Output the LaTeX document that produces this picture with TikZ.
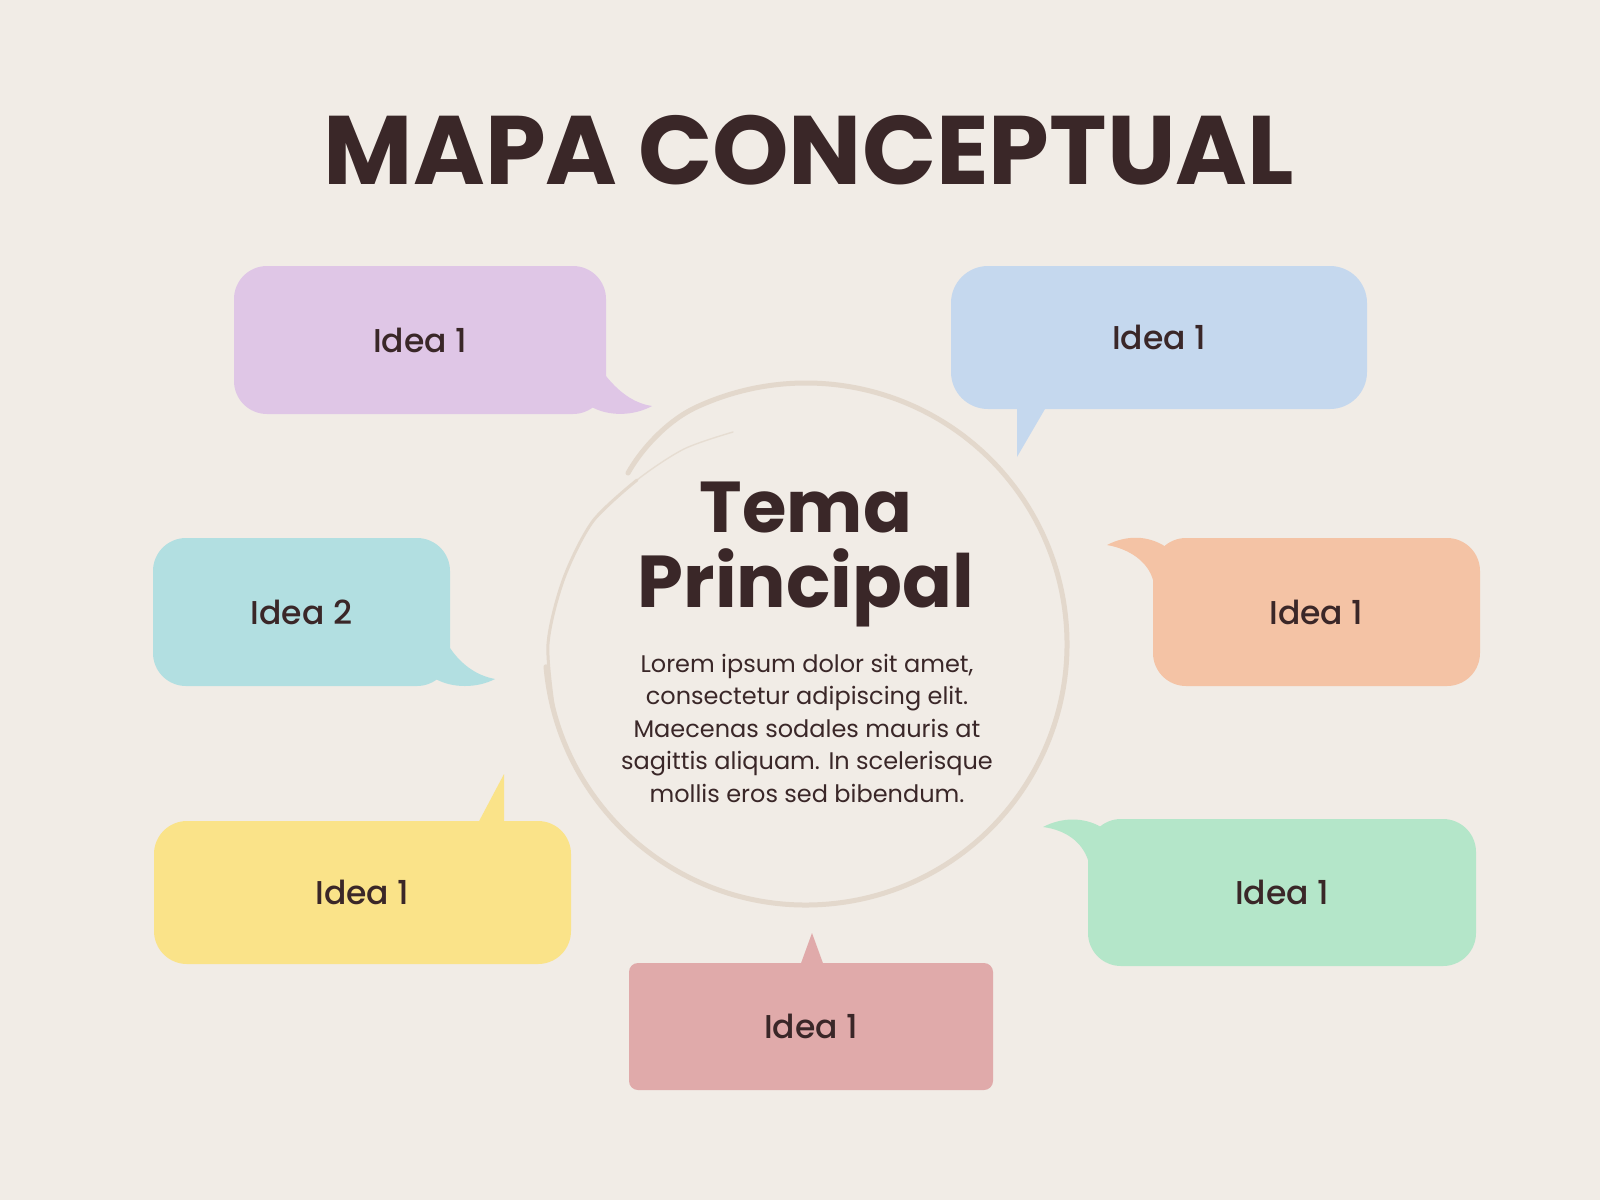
\documentclass[tikz,border=0pt]{standalone}
\usepackage{fontspec}
\setmainfont{Poppins}
\newfontfamily\ideafont{Poppins Medium}
\definecolor{bg}{HTML}{F1ECE6}
\definecolor{ink}{HTML}{3A2728}
\definecolor{ring}{HTML}{E3D8CC}
\definecolor{purp}{HTML}{DFC6E6}
\definecolor{blu}{HTML}{C5D8EE}
\definecolor{orng}{HTML}{F4C3A5}
\definecolor{teal2}{HTML}{B2DFE1}
\definecolor{yell}{HTML}{FAE389}
\definecolor{pnk}{HTML}{E0AAAA}
\definecolor{grn}{HTML}{B4E6C9}
\tikzset{
  bubble/.style={inner sep=0pt, rounded corners=33pt, text=ink,
    font=\ideafont\fontsize{33}{40}\selectfont},
  headtext/.style={inner sep=0pt, text=ink, anchor=base},
  brush/.style={draw=ring, line cap=round, line join=round},
}
\begin{document}
\begin{tikzpicture}[x=1pt,y=-1pt]
\fill[bg] (0,0) rectangle (1600,1200);
\useasboundingbox (0,0) rectangle (1600,1200);

% title
\node[headtext, font=\bfseries] (title) at (809,184) {\resizebox{970pt}{!}{MAPA CONCEPTUAL}};

% central circle (hand-drawn ring)
\node[circle, minimum size=522pt, inner sep=0pt, outer sep=0pt] (c) at (806,644) {};
\draw[brush, line width=5pt] (c.185) arc[start angle=185, end angle=475, radius=261pt]
  .. controls (668,420.5) and (642,448) .. (628,473);
\draw[brush, line width=1.4pt, opacity=0.75] plot[smooth] coordinates {(733,432) (684,449) (637,480) (593,521)};
\draw[brush, line width=3pt] plot[smooth] coordinates {(637,480) (593,521) (563.6,579) (548,644) (554,711.6)};

\node[headtext, font=\bfseries] (tema) at (806,532) {\resizebox{212pt}{!}{Tema}};
\node[headtext, font=\bfseries] (princ) at (806,607.5) {\resizebox{336pt}{!}{Principal}};
\node[headtext, align=center, font=\fontsize{24}{32.5}\selectfont] (body) at (807,802)
 {Lorem ipsum dolor sit amet,\\consectetur adipiscing elit.\\Maecenas sodales mauris at\\sagittis aliquam. In scelerisque\\mollis eros sed bibendum.};

% purple bubble (top left)
\node[bubble, fill=purp, minimum width=372pt, minimum height=148pt] (b1) at (420,340) {Idea 1};
\fill[purp] (606,376) .. controls (622,396) and (638,404) .. (652,406)
  .. controls (634,416) and (608,417) .. (590,406) -- (590,376) -- cycle;

% blue bubble (top right)
\node[bubble, fill=blu, rounded corners=37pt, minimum width=416pt, minimum height=143pt] (b2) at (1159,337.5) {Idea 1};
\fill[blu] (1017,400) -- (1017,457) -- (1045,409) -- (1045,400) -- cycle;

% teal bubble (left)
\node[bubble, fill=teal2, minimum width=297pt, minimum height=148pt] (b3) at (301.5,612) {Idea 2};
\fill[teal2] (450,648) .. controls (463,667) and (479,676) .. (495,679)
  .. controls (478,688) and (452,689) .. (434,678) -- (434,648) -- cycle;

% orange bubble (right)
\node[bubble, fill=orng, minimum width=327pt, minimum height=148pt] (b4) at (1316.5,612) {Idea 1};
\fill[orng] (1107,545) .. controls (1126,535) and (1148,535) .. (1166,547)
  -- (1166,580) -- (1153,580) .. controls (1148,562) and (1130,549) .. (1107,545) -- cycle;

% yellow bubble (bottom left)
\node[bubble, fill=yell, minimum width=417pt, minimum height=143pt] (b5) at (362.5,892.5) {Idea 1};
\fill[yell] (477,825) -- (504,774) -- (504,825) -- cycle;

% green bubble (bottom right)
\node[bubble, fill=grn, minimum width=388pt, minimum height=147pt] (b6) at (1282,892.5) {Idea 1};
\fill[grn] (1043,827) .. controls (1062,817) and (1084,817) .. (1101,827)
  -- (1101,860) -- (1088,860) .. controls (1082,842) and (1066,830) .. (1043,827) -- cycle;

% pink bubble (bottom)
\node[bubble, fill=pnk, rounded corners=9pt, minimum width=364pt, minimum height=127pt] (b7) at (811,1026.5) {Idea 1};
\fill[pnk] (800,966) -- (812,933) -- (824,966) -- cycle;
\end{tikzpicture}
\end{document}
